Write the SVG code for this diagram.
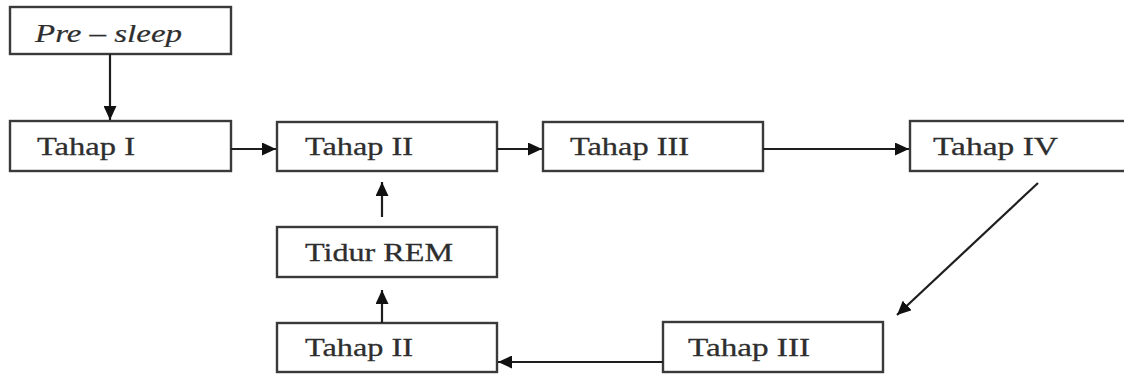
<svg xmlns="http://www.w3.org/2000/svg" width="1124" height="378" viewBox="0 0 1124 378">
  <style>
    .box { fill: #ffffff; stroke: #3a3a3a; stroke-width: 2.4; }
    .lbl { font-family: "Liberation Serif", "Times New Roman", serif; font-size: 26px; fill: #2e2e2e; stroke: #2e2e2e; stroke-width: 0.3; }
    .it { font-style: italic; stroke-width: 0.2; }
    .edge { fill: none; stroke: #1e1e1e; stroke-width: 2.2; marker-end: url(#head); }
  </style>
  <defs>
    <marker id="head" markerUnits="userSpaceOnUse" markerWidth="15" markerHeight="13" refX="14" refY="6.5" orient="auto">
      <path d="M0,0 L14,6.5 L0,13 Z" fill="#111111"/>
    </marker>
  </defs>
  <rect width="1124" height="378" fill="#ffffff"/>

  <g id="pre-sleep">
    <rect class="box" x="10" y="7" width="221" height="47"/>
    <text class="lbl it" x="35" y="42" textLength="147" lengthAdjust="spacingAndGlyphs">Pre – sleep</text>
  </g>
  <g id="tahap-1">
    <rect class="box" x="10" y="121" width="221" height="50"/>
    <text class="lbl" x="37" y="155" textLength="98" lengthAdjust="spacingAndGlyphs">Tahap I</text>
  </g>
  <g id="tahap-2">
    <rect class="box" x="277" y="122" width="220" height="49"/>
    <text class="lbl" x="305" y="155" textLength="108" lengthAdjust="spacingAndGlyphs">Tahap II</text>
  </g>
  <g id="tahap-3">
    <rect class="box" x="543" y="122" width="220" height="49"/>
    <text class="lbl" x="570" y="155" textLength="119" lengthAdjust="spacingAndGlyphs">Tahap III</text>
  </g>
  <g id="tahap-4">
    <rect class="box" x="910" y="121" width="222" height="50"/>
    <text class="lbl" x="933" y="155" textLength="125" lengthAdjust="spacingAndGlyphs">Tahap IV</text>
  </g>
  <g id="tidur-rem">
    <rect class="box" x="277" y="227" width="220" height="50"/>
    <text class="lbl" x="305" y="261" textLength="148" lengthAdjust="spacingAndGlyphs">Tidur REM</text>
  </g>
  <g id="tahap-2-return">
    <rect class="box" x="277" y="323" width="220" height="49"/>
    <text class="lbl" x="305" y="356" textLength="108" lengthAdjust="spacingAndGlyphs">Tahap II</text>
  </g>
  <g id="tahap-3-return">
    <rect class="box" x="663" y="322" width="220" height="50"/>
    <text class="lbl" x="688" y="356" textLength="122" lengthAdjust="spacingAndGlyphs">Tahap III</text>
  </g>

  <g id="connectors">
    <line class="edge" x1="110" y1="54" x2="110" y2="120"/>
    <line class="edge" x1="231" y1="149" x2="276" y2="149"/>
    <line class="edge" x1="497" y1="149" x2="542" y2="149"/>
    <line class="edge" x1="763" y1="149" x2="909" y2="149"/>
    <line class="edge" x1="1038" y1="183" x2="897" y2="315"/>
    <line class="edge" x1="663" y1="362" x2="498" y2="362"/>
    <line class="edge" x1="382" y1="323" x2="382" y2="290"/>
    <line class="edge" x1="382" y1="217" x2="382" y2="182"/>
  </g>
</svg>
